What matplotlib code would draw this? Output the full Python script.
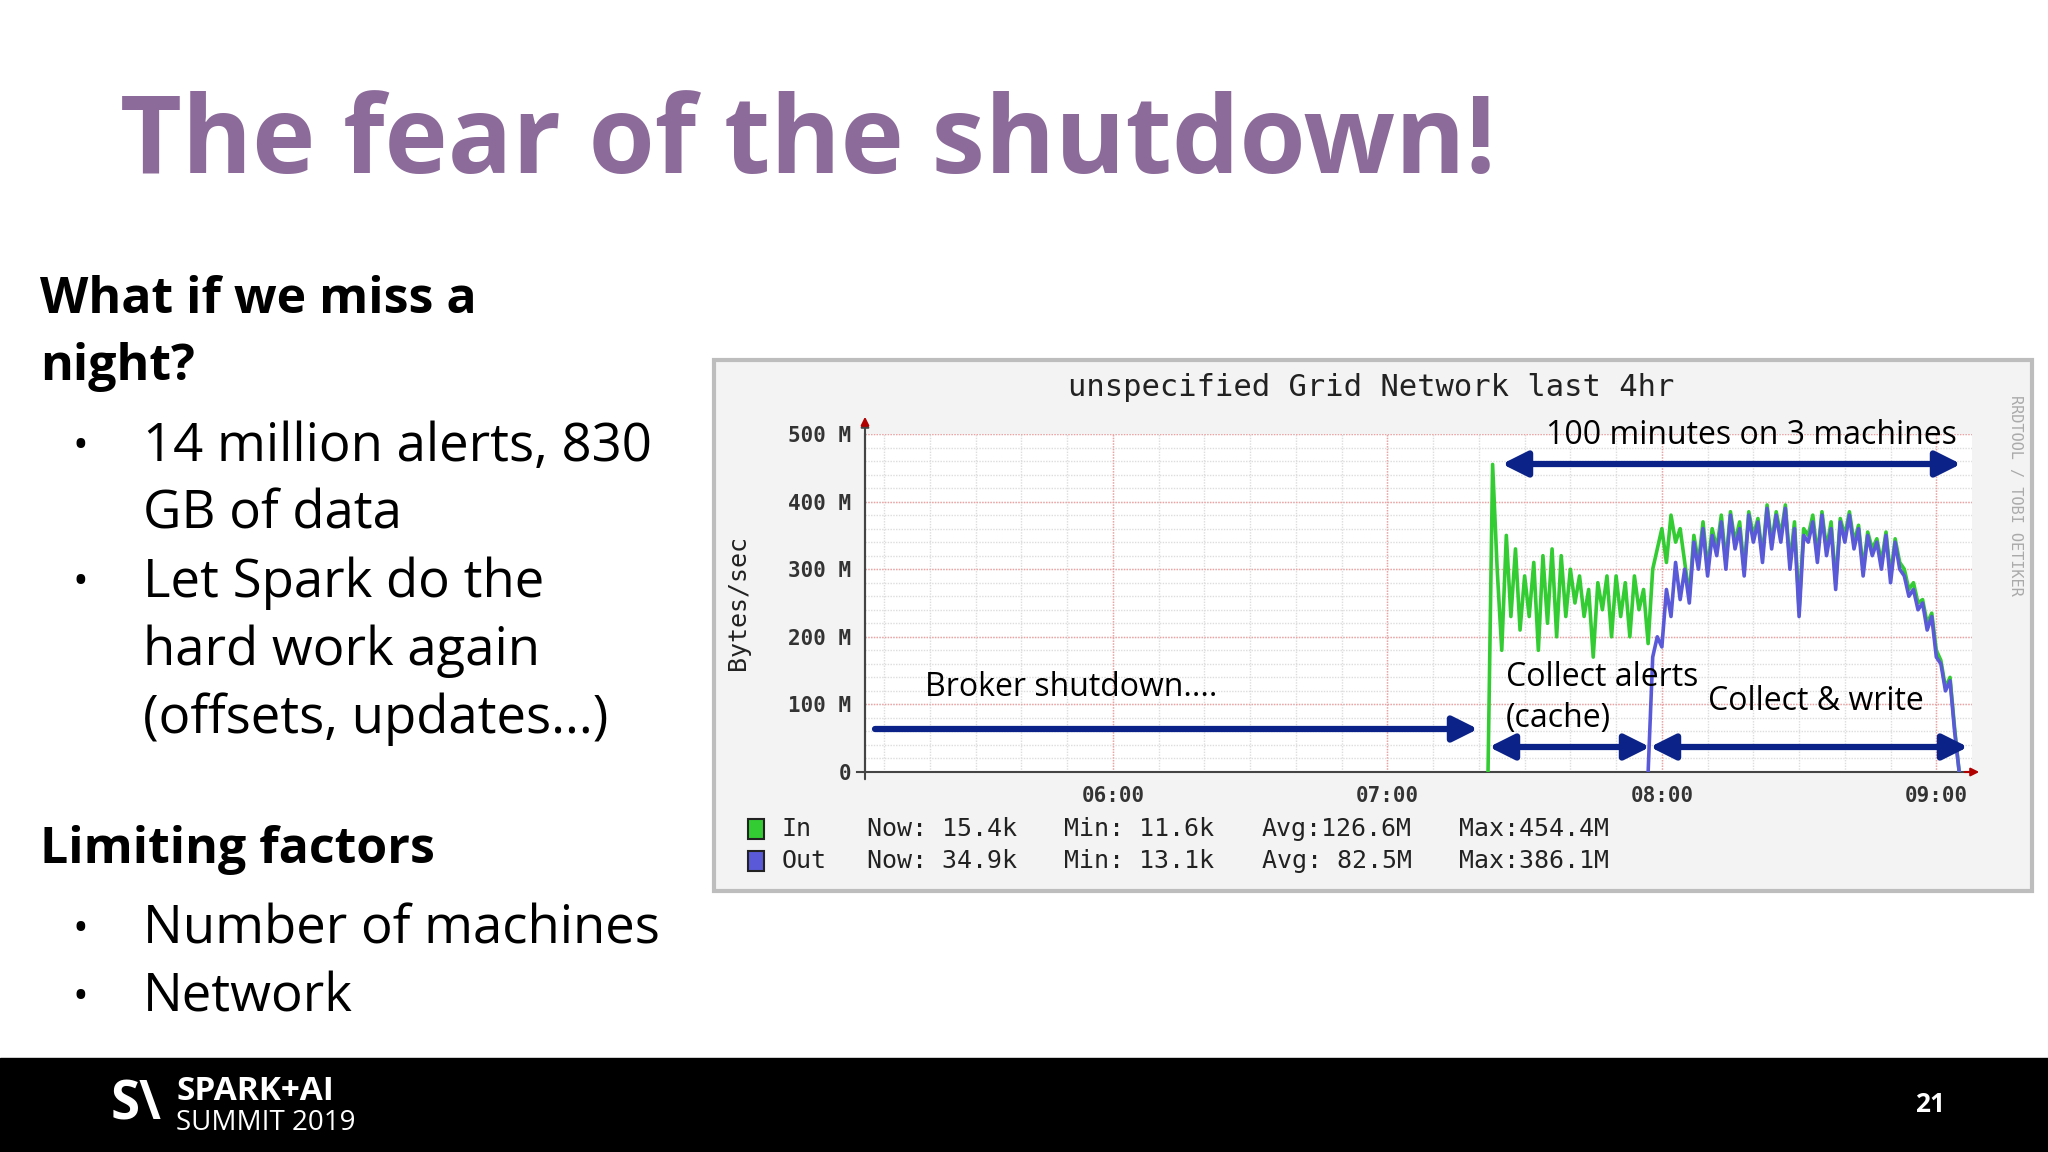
import numpy as np
import matplotlib
matplotlib.use("Agg")
import matplotlib.pyplot as plt

# ---- data (Bytes/sec in M, per minute; minute offsets after 07:00) ----
green_start = 22
green_vals = [0,455,300,180,350,230,330,210,290,230,310,180,320,220,330,200,320,230,300,250,
              290,230,270,170,280,240,290,200,290,230,280,200,290,240,270,190,300,330,360,310,380,340,360,
              310,260,350,310,370,300,360,330,380,310,385,340,370,300,385,350,375,320,395,340,
              385,350,395,310,370,240,360,350,380,320,385,330,370,280,375,350,385,340,365,300,
              355,330,345,310,355,290,345,310,300,270,280,250,255,220,235,180,165,125,140,65,0]
blue_start = 57
blue_vals = [0,170,200,185,270,230,310,255,300,250,340,300,360,290,350,320,370,300,380,330,
             360,290,380,340,370,310,390,330,380,340,390,300,360,230,350,340,370,310,380,320,
             360,270,370,340,380,330,360,290,350,320,340,300,350,280,340,300,290,260,270,240,
             250,210,230,170,160,120,135,60,0]
yticks = [0, 100, 200, 300, 400, 500]
ytick_labels = ["0", "100 M", "200 M", "300 M", "400 M", "500 M"]
xtick_labels = ["06:00", "07:00", "08:00", "09:00"]
legend_rows = [("In", "15.4k", "11.6k", "126.6M", "454.4M"),
               ("Out", "34.9k", "13.1k", " 82.5M", "386.1M")]

W, H = 2048, 1152
fig = plt.figure(figsize=(W/100, H/100), dpi=100)
bg = fig.add_axes([0, 0, 1, 1])
bg.set_xlim(0, W); bg.set_ylim(H, 0); bg.axis("off")

SANS = ["Open Sans", "DejaVu Sans"]
MONO = ["DejaVu Sans Mono"]
NAVY = "#0b2288"

# title
bg.text(120, 145, "The fear of the shutdown!", fontsize=77, fontweight="bold",
        color="#8c6b9a", family=SANS, va="center")

# left text
bg.text(40, 300, "What if we miss a", fontsize=36, fontweight="bold", family=SANS, va="center")
bg.text(40, 367, "night?", fontsize=36, fontweight="bold", family=SANS, va="center")
bullets = [(447, "14 million alerts, 830", True), (515, "GB of data", False),
           (583, "Let Spark do the", True), (651, "hard work again", False),
           (719, "(offsets, updates...)", False)]
for y, t, b in bullets:
    if b:
        bg.text(72, y, "•", fontsize=30, va="center", family=SANS)
    bg.text(143, y, t, fontsize=38, va="center", family=SANS)
bg.text(40, 850, "Limiting factors", fontsize=36, fontweight="bold", family=SANS, va="center")
for y, t in [(930, "Number of machines"), (998, "Network")]:
    bg.text(72, y, "•", fontsize=30, va="center", family=SANS)
    bg.text(143, y, t, fontsize=38, va="center", family=SANS)

# footer
bg.add_patch(plt.Rectangle((0, 1058), W, 94, color="black"))
bg.text(176, 1091, "SPARK+AI", color="white", fontsize=24, fontweight="bold", va="center", family=SANS)
bg.text(176, 1123, "SUMMIT 2019", color="white", fontsize=20, va="center", family=SANS)
bg.text(136, 1105, "S\\", color="white", fontsize=38, fontweight="bold", va="center", ha="center", family=SANS)
bg.text(1930, 1104, "21", color="white", fontsize=19, fontweight="bold", va="center", ha="center", family=SANS)

# chart frame
bg.add_patch(plt.Rectangle((714, 360), 1318, 531, facecolor="#f3f3f3", edgecolor="#bdbdbd", lw=3))
bg.text(1371, 388, "unspecified Grid Network last 4hr", fontsize=22, family=MONO, ha="center", va="center", color="#222")
bg.text(738, 603, "Bytes/sec", fontsize=18, family=MONO, rotation=90, ha="center", va="center", color="#222")
bg.text(2015, 495, "RRDTOOL / TOBI OETIKER", fontsize=11, family=MONO, rotation=270, ha="center", va="center", color="#aaaaaa")

# chart axes
x0, x1, y0, y1 = 865, 1972, 772, 434
ax = fig.add_axes([x0/W, 1-y0/H, (x1-x0)/W, (y0-y1)/H])
ax.set_facecolor("white")
xmin, xmax = -54.2, 187.8  # minutes since 06:00
ax.set_xlim(xmin, xmax); ax.set_ylim(0, 500)
for s in ["top", "right"]:
    ax.spines[s].set_visible(False)
for s in ["left", "bottom"]:
    ax.spines[s].set_color("#444"); ax.spines[s].set_linewidth(1.5)
ax.set_xticks([0, 60, 120, 180]); ax.set_xticklabels(xtick_labels, family=MONO, fontsize=15, fontweight="bold", color="#333")
ax.set_yticks(yticks); ax.set_yticklabels(ytick_labels, family=MONO, fontsize=15, fontweight="bold", color="#333")
ax.tick_params(length=0, pad=10)
for m in np.arange(-50, 188, 10):
    ax.axvline(m, color="#dddddd", lw=1, ls=(0, (1, 1)), zorder=0)
for v in np.arange(20, 501, 20):
    ax.axhline(v, color="#dddddd", lw=1, ls=(0, (1, 1)), zorder=0)
for m in [0, 60, 120, 180]:
    ax.axvline(m, color="#f0a0a0", lw=1, ls=(0, (1, 1)), zorder=0)
for v in [100, 200, 300, 400, 500]:
    ax.axhline(v, color="#f0a0a0", lw=1, ls=(0, (1, 1)), zorder=0)

gt = 60 + green_start + np.arange(len(green_vals))
bt = 60 + blue_start + np.arange(len(blue_vals))
ax.plot(gt, green_vals, color="#33cc33", lw=2.6, zorder=3)
ax.plot(bt, blue_vals, color="#5a5ad8", lw=2.6, zorder=4)

# overlay for annotations
top = fig.add_axes([0, 0, 1, 1])
top.set_xlim(0, W); top.set_ylim(H, 0); top.axis("off"); top.patch.set_alpha(0)

top.annotate("", xy=(x0, y1-18), xytext=(x0, y0+10),
             arrowprops=dict(arrowstyle="-|>", color="#444", lw=1.5, mutation_scale=12))
top.plot([x0-8, x0], [y0, y0], color="#444", lw=1.5)
top.annotate("", xy=(x0, y1-20), xytext=(x0, y1-6),
             arrowprops=dict(arrowstyle="-|>", color="#b00000", lw=1.5, mutation_scale=12))
top.annotate("", xy=(1982, y0), xytext=(1962, y0),
             arrowprops=dict(arrowstyle="-|>", color="#b00000", lw=1.5, mutation_scale=12))

# legend
for i, (name, now, mn, avg, mx) in enumerate(legend_rows):
    y = 829 + 32*i
    bg.add_patch(plt.Rectangle((748, y-10), 16, 20, facecolor=["#33cc33", "#5a5ad8"][i], edgecolor="#222", lw=1.5))
    for xx, t in [(782, name), (867, "Now: " + now), (1064, "Min: " + mn), (1262, "Avg:" + avg), (1459, "Max:" + mx)]:
        bg.text(xx, y, t, fontsize=18, family=MONO, va="center", color="#222")

def arrow(xa, xb, y, both):
    top.annotate("", xy=(xb, y), xytext=(xa, y),
                 arrowprops=dict(arrowstyle="<|-|>" if both else "-|>", color=NAVY, lw=4.5,
                                 mutation_scale=38, shrinkA=0, shrinkB=0))
arrow(875, 1478, 729, False)
arrow(1502, 1961, 464, True)
arrow(1489, 1650, 747, True)
arrow(1650, 1968, 747, True)
for x, y, t in [(925, 688, "Broker shutdown...."), (1546, 436, "100 minutes on 3 machines"),
                (1506, 677, "Collect alerts"), (1506, 718, "(cache)"), (1708, 701, "Collect & write")]:
    top.text(x, y, t, fontsize=23, family=SANS, va="center")

fig.savefig("out.png", dpi=100, facecolor="white")
